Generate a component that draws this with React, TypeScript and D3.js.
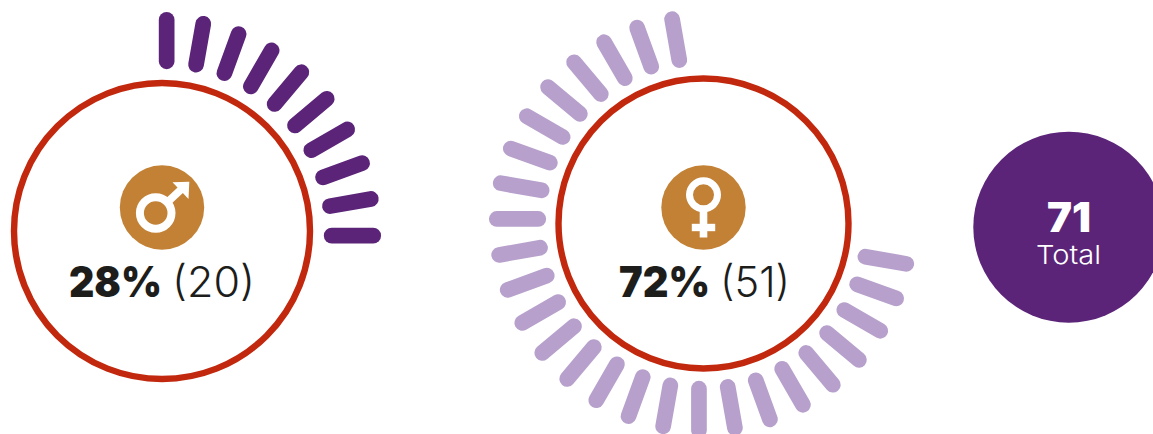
import React from "react";
import * as d3 from "d3";

const W = 1153;
const H = 434;

// Data
const genders = ["male", "female"];
const percents = [28, 72];
const counts = [20, 51];
const total = 71;
const totalLabel = "Total";
// one tick per two people, on a 36-tick wheel (10 degrees per tick)
const peoplePerTick = 2;
const startAngles = [0, 100];
const degreesPerTick = 10;

const PURPLE = "#5b2479";
const LILAC = "#b7a1cc";
const RED = "#c1280d";
const GOLD = "#c28135";
const INK = "#1d1d1b";

const FONT = "Inter, 'Noto Sans', sans-serif";

type Panel = {
  cx: number; cy: number; ringR: number; tickR: number; iconCy: number;
  color: string; boldX: [number, number]; lightX: [number, number];
};

const panels: Panel[] = [
  { cx: 162, cy: 231, ringR: 148, tickR: 190.5, iconCy: 207.5, color: PURPLE, boldX: [69, 162], lightX: [172, 255] },
  { cx: 703.5, cy: 223.5, ringR: 145, tickR: 186, iconCy: 207.5, color: LILAC, boldX: [619, 710], lightX: [720, 790] },
];

const TICK_LEN = 41.5;
const TICK_W = 15.7;
const ANGLE_DRIFT = 1.4;

function Ticks({ panel, index }: { panel: Panel; index: number }) {
  const n = Math.round(counts[index] / peoplePerTick);
  const angle = d3
    .scaleLinear()
    .domain([0, n - 1])
    .range([startAngles[index], startAngles[index] + (n - 1) * degreesPerTick]);
  return (
    <g>
      {d3.range(n).map((i) => {
        const a = angle(i);
        const posA = ((a + ANGLE_DRIFT) * Math.PI) / 180;
        const dirA = (a * Math.PI) / 180;
        const mx = panel.cx + panel.tickR * Math.sin(posA);
        const my = panel.cy - panel.tickR * Math.cos(posA);
        const dx = (Math.sin(dirA) * TICK_LEN) / 2;
        const dy = (-Math.cos(dirA) * TICK_LEN) / 2;
        return (
          <line
            key={i}
            x1={mx - dx}
            y1={my - dy}
            x2={mx + dx}
            y2={my + dy}
            stroke={panel.color}
            strokeWidth={TICK_W}
            strokeLinecap="round"
          />
        );
      })}
    </g>
  );
}

function MaleIcon({ cx, cy }: { cx: number; cy: number }) {
  return (
    <g>
      <circle cx={cx} cy={cy} r={42.2} fill={GOLD} />
      <circle cx={cx - 6.3} cy={cy + 5.5} r={15.8} fill="none" stroke="#fff" strokeWidth={8} />
      <line x1={cx + 3} y1={cy - 3} x2={cx + 19} y2={cy - 18} stroke="#fff" strokeWidth={7.8} />
      <path
        d={`M${cx + 27.3} ${cy - 25.8}L${cx + 10.5} ${cy - 25.2}L${cx + 26.5} ${cy - 8.5}Z`}
        fill="#fff"
      />
    </g>
  );
}

function FemaleIcon({ cx, cy }: { cx: number; cy: number }) {
  return (
    <g>
      <circle cx={cx} cy={cy} r={42.2} fill={GOLD} />
      <circle cx={cx} cy={cy - 12.7} r={14} fill="none" stroke="#fff" strokeWidth={7} />
      <line x1={cx} y1={cy + 4} x2={cx} y2={cy + 30} stroke="#fff" strokeWidth={7.6} />
      <line x1={cx - 11.7} y1={cy + 20} x2={cx + 11.7} y2={cy + 20} stroke="#fff" strokeWidth={7.4} />
    </g>
  );
}

function Label({ panel, index }: { panel: Panel; index: number }) {
  const y = 297;
  return (
    <g fontFamily={FONT} fill={INK} fontSize={42}>
      <text
        x={panel.boldX[0]}
        y={y}
        fontWeight={900}
        textLength={panel.boldX[1] - panel.boldX[0]}
        lengthAdjust="spacingAndGlyphs"
      >
        {`${percents[index]}%`}
      </text>
      <text
        x={panel.lightX[0]}
        y={y}
        fontWeight={300}
        textLength={panel.lightX[1] - panel.lightX[0]}
        lengthAdjust="spacingAndGlyphs"
      >
        {`(${counts[index]})`}
      </text>
    </g>
  );
}

export default function App() {
  return (
    <svg
      width={W}
      height={H}
      viewBox={`0 0 ${W} ${H}`}
      style={{ position: "absolute", left: 0, top: 0, display: "block", background: "#fff" }}
    >
      {genders.map((g, i) => {
        const p = panels[i];
        return (
          <g key={g}>
            <Ticks panel={p} index={i} />
            <circle cx={p.cx} cy={p.cy} r={p.ringR} fill="#fff" stroke={RED} strokeWidth={6.4} />
            {g === "male" ? <MaleIcon cx={p.cx} cy={p.iconCy} /> : <FemaleIcon cx={p.cx} cy={p.iconCy} />}
            <Label panel={p} index={i} />
          </g>
        );
      })}
      <circle cx={1068.8} cy={227.2} r={95.5} fill={PURPLE} />
      <text
        x={1047}
        y={232}
        fontFamily={FONT}
        fontWeight={900}
        fontSize={41}
        fill="#fff"
        textLength={44}
        lengthAdjust="spacingAndGlyphs"
      >
        {`${total}`}
      </text>
      <text
        x={1036}
        y={264}
        fontFamily={FONT}
        fontWeight={300}
        fontSize={26}
        fill="#fff"
        textLength={65}
        lengthAdjust="spacingAndGlyphs"
      >
        {totalLabel}
      </text>
    </svg>
  );
}
